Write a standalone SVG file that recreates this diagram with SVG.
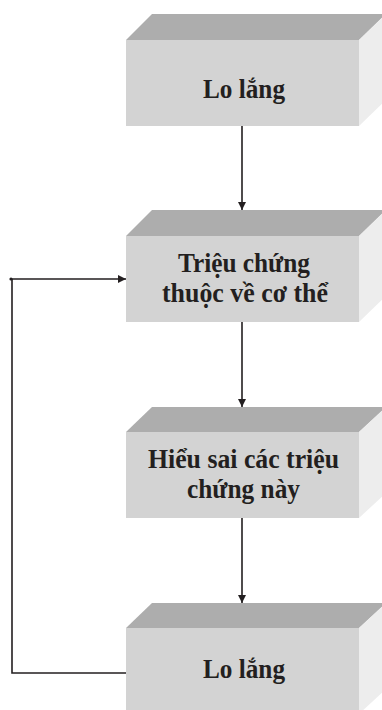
<svg xmlns="http://www.w3.org/2000/svg" width="382" height="710" viewBox="0 0 382 710">
  <style>
    .front { fill: #d3d3d3; }
    .top { fill: #adadad; }
    .side { fill: #ededed; }
    .label { font-family: "Liberation Serif", "DejaVu Serif", serif; font-weight: bold; font-size: 28px; fill: #231f20; text-anchor: middle; }
    .conn { fill: none; stroke: #231f20; stroke-width: 1.6; }
  </style>
  <defs>
    <marker id="arrowL" viewBox="0 0 10 10" refX="10" refY="5" markerWidth="8" markerHeight="8" orient="auto" markerUnits="userSpaceOnUse">
      <path d="M0,0 L10,5 L0,10 Z" fill="#231f20"/>
    </marker>
  </defs>

  <rect width="382" height="710" fill="#ffffff"/>

  <!-- Block 1: Lo lắng -->
  <g id="node-lo-lang-1">
    <polygon class="top" points="126,40 152,14 386,14 359,40"/>
    <polygon class="side" points="359,40 386,14 386,100 359,126"/>
    <rect class="front" x="126" y="40" width="233" height="86"/>
    <text class="label" x="244" y="98" textLength="82" lengthAdjust="spacingAndGlyphs">Lo lắng</text>
  </g>

  <!-- Block 2: Triệu chứng thuộc về cơ thể -->
  <g id="node-trieu-chung">
    <polygon class="top" points="126,236 152,210 386,210 359,236"/>
    <polygon class="side" points="359,236 386,210 386,296 359,322"/>
    <rect class="front" x="126" y="236" width="233" height="86"/>
    <text class="label" x="244" y="272" textLength="132" lengthAdjust="spacingAndGlyphs">Triệu chứng</text>
    <text class="label" x="245" y="302" textLength="166" lengthAdjust="spacingAndGlyphs">thuộc về cơ thể</text>
  </g>

  <!-- Block 3: Hiểu sai các triệu chứng này -->
  <g id="node-hieu-sai">
    <polygon class="top" points="126,432 152,407 386,407 359,432"/>
    <polygon class="side" points="359,432 386,407 386,493 359,518"/>
    <rect class="front" x="126" y="432" width="233" height="86"/>
    <text class="label" x="243.5" y="468" textLength="191" lengthAdjust="spacingAndGlyphs">Hiểu sai các triệu</text>
    <text class="label" x="243.5" y="498" textLength="113" lengthAdjust="spacingAndGlyphs">chứng này</text>
  </g>

  <!-- Block 4: Lo lắng -->
  <g id="node-lo-lang-2">
    <polygon class="top" points="126,628 152,603 386,603 359,628"/>
    <polygon class="side" points="359,628 386,603 386,689 359,714"/>
    <rect class="front" x="126" y="628" width="233" height="86"/>
    <text class="label" x="244" y="678" textLength="82" lengthAdjust="spacingAndGlyphs">Lo lắng</text>
  </g>

  <!-- Connectors -->
  <g id="connectors">
    <line class="conn" x1="242" y1="126" x2="242" y2="210" marker-end="url(#arrowL)"/>
    <line class="conn" x1="242" y1="322" x2="242" y2="407" marker-end="url(#arrowL)"/>
    <line class="conn" x1="242" y1="518" x2="242" y2="603" marker-end="url(#arrowL)"/>
    <polyline class="conn" points="126,673 12,673 12,279 126,279" marker-end="url(#arrowL)"/>
    <circle cx="11" cy="279" r="1.6" fill="#231f20"/>
  </g>
</svg>
